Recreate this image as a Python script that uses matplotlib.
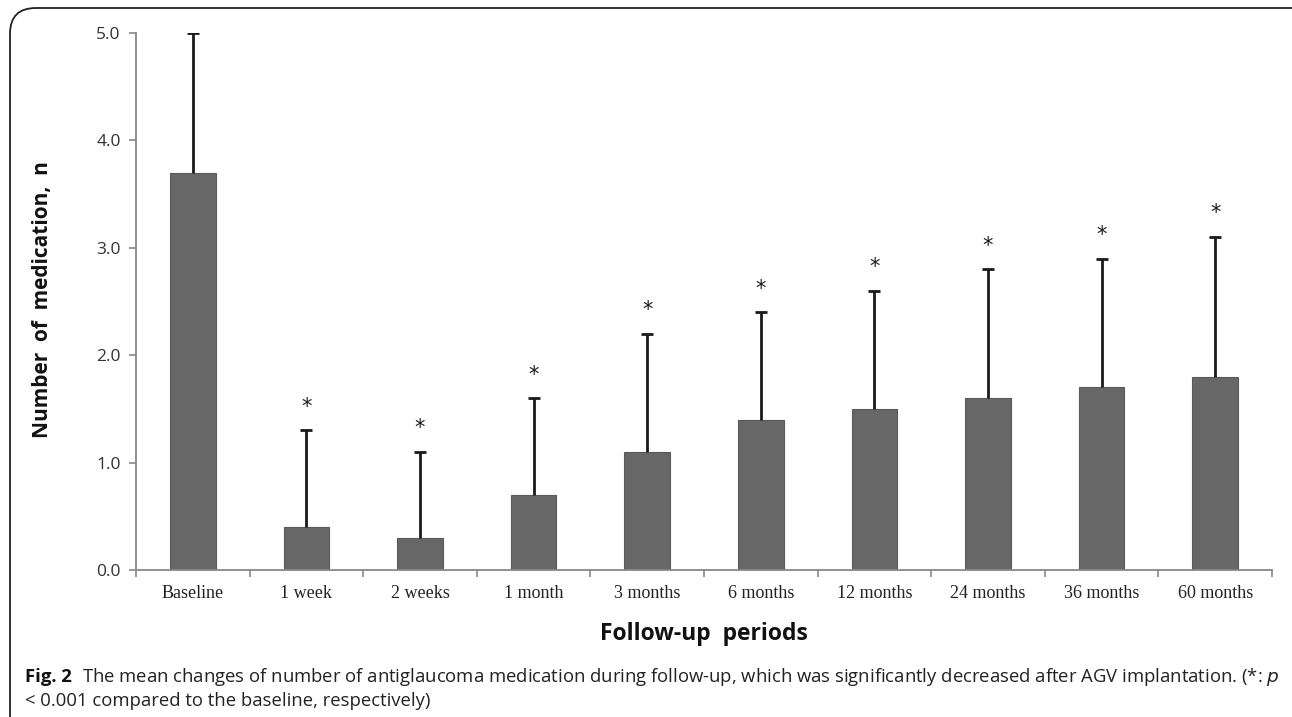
import matplotlib
matplotlib.use("Agg")
import matplotlib.pyplot as plt
from matplotlib.patches import FancyBboxPatch
from matplotlib.ticker import FixedLocator, NullFormatter
import numpy as np

categories = ["Baseline", "1 week", "2 weeks", "1 month", "3 months", "6 months",
              "12 months", "24 months", "36 months", "60 months"]
means = [3.7, 0.4, 0.3, 0.7, 1.1, 1.4, 1.5, 1.6, 1.7, 1.8]
sds = [1.3, 0.9, 0.8, 0.9, 1.1, 1.0, 1.1, 1.2, 1.2, 1.3]
significant = [False, True, True, True, True, True, True, True, True, True]
y_ticks = [0.0, 1.0, 2.0, 3.0, 4.0, 5.0]

W, H = 1292, 717
fig = plt.figure(figsize=(W / 100, H / 100), dpi=100)

# outer rounded frame
frame = FancyBboxPatch((10 / W, -0.05), (W + 30) / W, 1 - 8 / H + 0.05,
                       boxstyle="round,pad=0,rounding_size=0.02",
                       transform=fig.transFigure, fill=False,
                       edgecolor="#222222", linewidth=1.3, mutation_aspect=W / H)
fig.patches.append(frame)

ax = fig.add_axes([136 / W, 1 - 570 / H, (1272 - 136) / W, (570 - 33) / H])
x = np.arange(len(categories))
ax.bar(x, means, width=0.40, color="#676767", edgecolor="#5a5a5a", linewidth=0.8, zorder=2)
lower = np.zeros(len(sds))
eb = ax.errorbar(x, means, yerr=[lower, sds], fmt="none", ecolor="#1a1a1a",
                 elinewidth=2.0, capsize=4.5, capthick=2.0, zorder=3)
# only the upper cap is drawn in the reference
eb[1][0].set_visible(False)
for xi, m, s, sig in zip(x, means, sds, significant):
    if sig:
        ax.text(xi, m + s + 0.22, "*", ha="center", va="center", fontsize=15,
                family="DejaVu Sans", color="#1a1a1a")

ax.set_xlim(-0.5, len(categories) - 0.5)
ax.set_ylim(0, 5.0)
ax.set_yticks(y_ticks)
ax.set_yticklabels([f"{v:.1f}" for v in y_ticks], family="Open Sans", fontsize=12.5,
                   color="#333333")
ax.set_xticks(x)
ax.set_xticklabels(categories, family="Liberation Serif", fontsize=13, color="#222222")
ax.tick_params(axis="x", which="major", length=0, pad=11)
ax.xaxis.set_minor_locator(FixedLocator(np.arange(-0.5, len(categories), 1.0)))
ax.xaxis.set_minor_formatter(NullFormatter())
ax.tick_params(axis="x", which="minor", length=5, width=1.2, color="#888888", direction="out")
ax.tick_params(axis="y", length=5, width=1.2, color="#888888", direction="out", pad=6)

for side in ["top", "right"]:
    ax.spines[side].set_visible(False)
for side in ["left", "bottom"]:
    ax.spines[side].set_color("#888888")
    ax.spines[side].set_linewidth(1.3)

fig.text(43 / W, 1 - 300 / H, "Number  of  medication,  n", rotation=90, ha="center",
         va="center", family="Open Sans", fontweight="bold", fontsize=15, color="#111111")
fig.text(704 / W, 1 - 634 / H, "Follow-up  periods", ha="center", va="center",
         family="Open Sans", fontweight="bold", fontsize=16.5, color="#111111")

# caption
cap_y1 = 1 - 677 / H
cap_y2 = 1 - 701 / H
t = fig.text(25 / W, cap_y1, "Fig. 2", ha="left", va="center", family="Open Sans",
             fontweight="bold", fontsize=13.3, color="#111111")
fig.canvas.draw()
bb = t.get_window_extent()
fig.text((bb.x1 + 10) / W, cap_y1,
         "The mean changes of number of antiglaucoma medication during follow-up, which was "
         "significantly decreased after AGV implantation. (*: $\\it{p}$",
         ha="left", va="center", family="Open Sans", fontsize=13.3, color="#222222")
fig.text(25 / W, cap_y2, "< 0.001 compared to the baseline, respectively)",
         ha="left", va="center", family="Open Sans", fontsize=13.3, color="#222222")

fig.savefig("out.png", dpi=100)
